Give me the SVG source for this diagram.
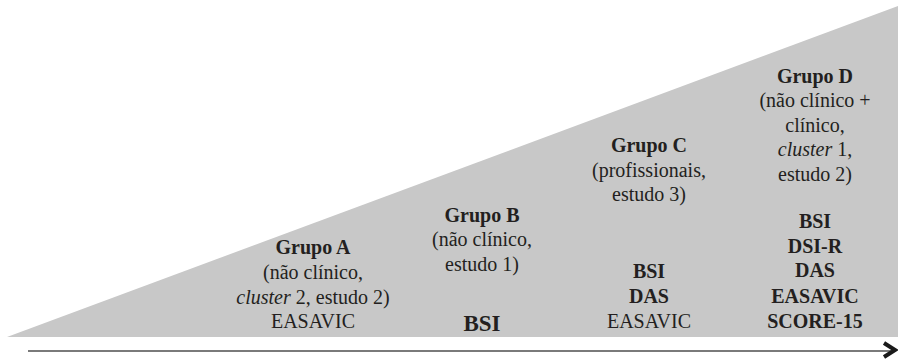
<svg xmlns="http://www.w3.org/2000/svg" width="898" height="363" viewBox="0 0 898 363">
<style>
text{font-family:'Liberation Serif','Times New Roman','DejaVu Serif',serif;font-size:20px;fill:#231f20;text-anchor:middle}
.b{font-weight:bold}
.i{font-style:italic}
.big{font-size:23px}
</style>
<rect width="898" height="363" fill="#ffffff"/>
<polygon points="7,337 898,6 898,337" fill="#c8c8c8"/>
<g id="connectors">
<line x1="28" y1="351" x2="892" y2="351" stroke="#7a7a7a" stroke-width="2"/>
<polyline points="884,343 895,350 884,357" fill="none" stroke="#1a1a1a" stroke-width="4" stroke-linejoin="miter"/>
</g>
<g id="grupoA">
<text class="b" x="313" y="254">Grupo A</text>
<text x="313" y="279">(não clínico,</text>
<text x="313" y="304"><tspan class="i">cluster</tspan> 2, estudo 2)</text>
<text x="313" y="328">EASAVIC</text>
</g>
<g id="grupoB">
<text class="b" x="482" y="222">Grupo B</text>
<text x="482" y="246">(não clínico,</text>
<text x="482" y="271">estudo 1)</text>
<text class="b big" x="482" y="331">BSI</text>
</g>
<g id="grupoC">
<text class="b" x="649" y="152">Grupo C</text>
<text x="649" y="177">(profissionais,</text>
<text x="649" y="201">estudo 3)</text>
<text class="b" x="649" y="278">BSI</text>
<text class="b" x="649" y="303">DAS</text>
<text x="649" y="328">EASAVIC</text>
</g>
<g id="grupoD">
<text class="b" x="815" y="83">Grupo D</text>
<text x="815" y="107">(não clínico +</text>
<text x="815" y="132">clínico,</text>
<text x="815" y="156"><tspan class="i">cluster</tspan> 1,</text>
<text x="815" y="181">estudo 2)</text>
<text class="b" x="815" y="228">BSI</text>
<text class="b" x="815" y="253">DSI-R</text>
<text class="b" x="815" y="277">DAS</text>
<text class="b" x="815" y="303">EASAVIC</text>
<text class="b" x="815" y="328">SCORE-15</text>
</g>
</svg>
